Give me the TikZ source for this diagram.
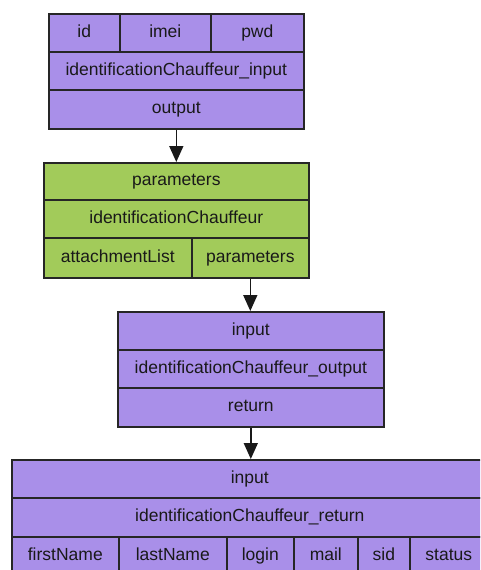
\documentclass[tikz,border=0pt]{standalone}
\usepackage{fontspec}
\setmainfont{Liberation Sans}
\usetikzlibrary{arrows.meta}
\definecolor{cpurple}{HTML}{A98FE9}
\definecolor{cgreen}{HTML}{A2CB5A}
\newcommand{\mycell}[7]{%
  \node[cell, fill=#6, anchor=north west, minimum width={(#4-#2)*1pt}, minimum height={(#5-#3)*1pt}] (#1) at (#2,#3) {#7};}
\tikzset{
  cell/.style={draw=black!85, line width=1.6pt, inner sep=0pt, rectangle, text=black!90,
    font=\fontsize{17.5}{19}\selectfont, text height=12.5pt, text depth=3.5pt},
  link/.style={line width=1.6pt, draw=black!90, -{Triangle[length=16pt,width=14pt]}}
}
\begin{document}
\begin{tikzpicture}[x=1pt,y=-1pt]
\useasboundingbox (0,0) rectangle (480,570);
\clip (0,0) rectangle (480,570);
% table 1
\mycell{aid}{48}{13}{119}{51}{cpurple}{id}
\mycell{aimei}{119}{13}{210}{51}{cpurple}{imei}
\mycell{apwd}{210}{13}{303}{51}{cpurple}{pwd}
\mycell{aname}{48}{51}{303}{89}{cpurple}{identificationChauffeur\_input}
\mycell{aout}{48}{89}{303}{128}{cpurple}{output}
% table 2
\mycell{bpar}{43}{162}{308}{199}{cgreen}{parameters}
\mycell{bname}{43}{199}{308}{237}{cgreen}{identificationChauffeur}
\mycell{batt}{43}{237}{191}{277}{cgreen}{attachmentList}
\mycell{bpar2}{191}{237}{308}{277}{cgreen}{parameters}
% table 3
\mycell{cin}{117}{311}{383}{349}{cpurple}{input}
\mycell{cname}{117}{349}{383}{387}{cpurple}{identificationChauffeur\_output}
\mycell{cret}{117}{387}{383}{426}{cpurple}{return}
% table 4
\mycell{din}{11}{459}{487}{497}{cpurple}{input}
\mycell{dname}{11}{497}{487}{536}{cpurple}{identificationChauffeur\_return}
\mycell{dfirst}{11}{536}{118}{575}{cpurple}{firstName}
\mycell{dlast}{118}{536}{226}{575}{cpurple}{lastName}
\mycell{dlogin}{226}{536}{293}{575}{cpurple}{login}
\mycell{dmail}{293}{536}{357}{575}{cpurple}{mail}
\mycell{dsid}{357}{536}{409}{575}{cpurple}{sid}
\mycell{dstatus}{409}{536}{487}{575}{cpurple}{status}
% connectors
\draw[link] (aout.south) -- (bpar.north);
\draw[link] (bpar2.south) -- (bpar2.south |- cin.north);
\draw[link] (cret.south) -- (cret.south |- din.north);
\end{tikzpicture}
\end{document}
